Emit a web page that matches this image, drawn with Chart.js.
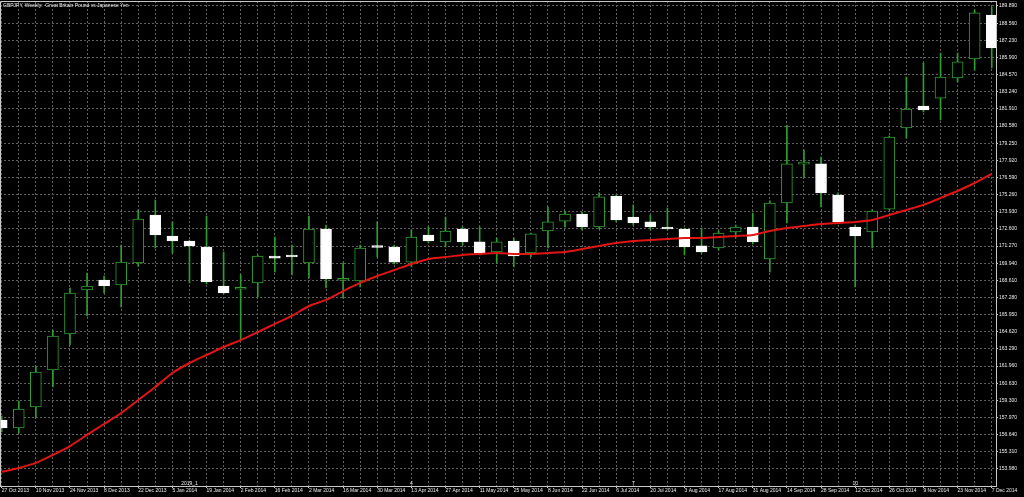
<!DOCTYPE html>
<html>
<head>
<meta charset="utf-8">
<script src="https://cdn.jsdelivr.net/npm/chart.js@4.4.1/dist/chart.umd.min.js"></script>
<style>
html, body { margin: 0; padding: 0; background: #000; }
#wrap { width: 1024px; height: 497px; }
</style>
</head>
<body>
<div id="wrap"><canvas id="gbpjpy" width="1024" height="497"></canvas></div>
<script>
var title = 'GBPJPY, Weekly:  Great Britain Pound vs Japanese Yen';

// every second week gets a date label
var dateLabels = ['27 Oct 2013','10 Nov 2013','24 Nov 2013','8 Dec 2013','22 Dec 2013','5 Jan 2014','19 Jan 2014',
    '2 Feb 2014','16 Feb 2014','2 Mar 2014','16 Mar 2014','30 Mar 2014','13 Apr 2014','27 Apr 2014','11 May 2014',
    '25 May 2014','8 Jun 2014','22 Jun 2014','6 Jul 2014','20 Jul 2014','3 Aug 2014','17 Aug 2014','31 Aug 2014',
    '14 Sep 2014','28 Sep 2014','12 Oct 2014','26 Oct 2014','9 Nov 2014','23 Nov 2014','7 Dec 2014'];

var opens = [157.78,157.16,158.79,161.66,164.45,167.86,168.64,168.25,169.96,173.68,
    172.05,171.66,171.20,168.17,167.92,168.41,170.50,170.58,169.96,172.59,
    168.62,168.56,171.28,171.20,170.03,172.13,171.59,172.59,171.59,170.81,
    171.66,170.73,172.44,173.21,173.76,172.75,175.15,173.52,173.14,172.75,
    172.59,171.28,171.12,172.36,172.75,170.27,174.61,177.62,177.64,175.23,
    172.75,172.36,174.14,180.43,182.13,182.75,184.31,185.78,189.19];
var highs = [158.09,159.25,161.89,164.76,168.02,169.18,168.95,171.35,174.07,174.84,
    173.14,171.74,173.60,170.81,169.03,170.58,171.97,171.35,173.60,172.90,
    169.96,171.35,173.14,171.35,172.52,172.75,173.52,172.75,172.75,171.90,
    171.90,172.28,174.30,173.99,173.91,175.39,175.23,174.46,173.68,174.22,
    172.67,172.67,172.44,172.90,173.83,174.77,180.66,178.72,178.18,175.39,
    172.90,174.07,179.81,184.38,185.47,186.24,186.24,189.58,189.81];
var lows = [156.85,156.77,158.01,160.34,163.60,165.85,167.63,166.54,169.72,171.12,
    170.73,168.41,168.33,167.55,163.98,167.32,169.26,169.03,168.79,168.02,
    167.24,168.10,170.42,169.88,169.65,171.51,171.20,171.35,170.58,169.96,
    169.65,170.42,171.12,172.75,172.52,172.59,173.14,172.90,172.52,172.52,
    170.58,170.73,170.97,171.90,171.43,169.26,173.06,176.63,174.30,172.98,
    168.10,171.12,174.07,179.65,181.67,181.05,184.00,184.93,185.08];
var closes = [157.16,158.63,161.50,164.29,167.63,168.17,168.17,170.03,173.37,172.13,
    171.66,171.28,168.48,167.63,167.93,170.50,170.34,170.42,172.59,168.72,
    168.63,171.12,171.16,170.03,171.97,171.66,172.44,171.59,170.73,171.59,
    170.50,172.21,173.14,173.76,172.75,175.08,173.29,173.06,172.75,172.59,
    171.20,170.81,172.28,172.75,171.59,174.61,177.64,177.63,175.39,173.14,
    172.05,173.99,179.73,181.90,181.82,184.38,185.55,189.35,186.63];
var maValues = [153.75,154.06,154.45,155.07,155.76,156.62,157.47,158.32,159.33,160.34,
    161.42,162.20,162.82,163.44,163.98,164.60,165.23,165.85,166.62,167.09,
    167.78,168.41,168.95,169.41,169.88,170.27,170.42,170.58,170.66,170.73,
    170.66,170.66,170.73,170.81,171.04,171.28,171.51,171.66,171.74,171.82,
    171.90,171.90,171.97,172.05,172.13,172.44,172.67,172.83,172.98,173.06,
    173.14,173.29,173.68,174.07,174.46,175.00,175.54,176.16,176.86];

var priceTicks = [153.98,155.31,156.64,157.97,159.30,160.63,161.96,163.29,164.62,165.95,
    167.28,168.61,169.94,171.27,172.60,173.93,175.26,176.59,177.92,179.25,
    180.58,181.91,183.24,184.57,185.90,187.23,188.56,189.89];

var markLabels = ['2019_1', '4', '7', '10'];
var markIndex = [11, 24, 37, 50];

var gridGray = '#606060';
var axisGray = '#c8c8c8';
var textGray = '#ececec';
var green = '#2f9e2f';

var bodies = [], wicks = [], ma = [], bodyFill = [], bodyLine = [];
for (var i = 0; i < opens.length; i++) {
    bodies.push({x: i, y: [opens[i], closes[i]]});
    wicks.push({x: i, y: [lows[i], highs[i]]});
    ma.push({x: i, y: maValues[i]});
    var up = closes[i] >= opens[i];
    bodyFill.push(up ? '#000000' : '#ffffff');
    bodyLine.push(up ? green : '#ffffff');
}

var framePlugin = {
    id: 'frame',
    beforeDraw: function(chart) {
        var ctx = chart.ctx;
        ctx.save();
        ctx.fillStyle = '#000';
        ctx.fillRect(0, 0, chart.width, chart.height);
        ctx.restore();
    },
    afterDraw: function(chart) {
        var ctx = chart.ctx, area = chart.chartArea, sx = chart.scales.x;
        ctx.save();
        ctx.strokeStyle = axisGray;
        ctx.lineWidth = 1;
        ctx.beginPath();
        ctx.moveTo(area.left + 0.5, area.bottom);
        ctx.lineTo(area.left + 0.5, area.top + 0.5);
        ctx.lineTo(area.right, area.top + 0.5);
        ctx.stroke();
        ctx.font = '5px "Liberation Sans"';
        ctx.fillStyle = textGray;
        ctx.textBaseline = 'alphabetic';
        ctx.fillText(title, 3, 7);
        ctx.textAlign = 'center';
        for (var k = 0; k < markLabels.length; k++) {
            ctx.fillText(markLabels[k], sx.getPixelForValue(markIndex[k]), area.bottom - 1);
        }
        ctx.restore();
    }
};

Chart.defaults.font.family = '"Liberation Sans", Arial, sans-serif';
Chart.defaults.font.size = 5;

new Chart(document.getElementById('gbpjpy'), {
    data: {
        datasets: [{
            type: 'line',
            data: ma,
            borderColor: 'rgb(226, 20, 20)',
            borderWidth: 2,
            pointRadius: 0,
            tension: 0.2,
            order: 0
        }, {
            type: 'bar',
            data: bodies,
            backgroundColor: bodyFill,
            borderColor: bodyLine,
            borderWidth: 1,
            borderSkipped: false,
            barThickness: 11,
            minBarLength: 2,
            grouped: false,
            order: 1
        }, {
            type: 'bar',
            data: wicks,
            backgroundColor: green,
            borderWidth: 0,
            barThickness: 1,
            grouped: false,
            order: 2
        }]
    },
    options: {
        responsive: false,
        animation: false,
        devicePixelRatio: 1,
        layout: { padding: { top: 1, left: 0, right: 0, bottom: 0 } },
        plugins: {
            legend: false,
            tooltip: { enabled: false }
        },
        scales: {
            x: {
                type: 'linear',
                position: 'bottom',
                offset: false,
                min: -0.1,
                max: 58.25,
                afterBuildTicks: function(axis) {
                    axis.ticks = opens.map(function(v, i) { return {value: i}; });
                },
                afterFit: function(axis) {
                    axis.height = 11;
                    axis.paddingLeft = 0;
                    axis.paddingRight = 0;
                },
                grid: {
                    offset: false,
                    color: gridGray,
                    tickLength: 2,
                    tickColor: function(c) {
                        return (c.tick && c.tick.value % 2 === 0) ? axisGray : 'rgba(0,0,0,0)';
                    }
                },
                border: { color: axisGray, dash: [2, 2] },
                ticks: {
                    autoSkip: false,
                    maxRotation: 0,
                    align: 'start',
                    padding: 0,
                    color: textGray,
                    callback: function(v, idx) { return idx % 2 === 0 ? dateLabels[idx / 2] : ''; }
                }
            },
            y: {
                type: 'linear',
                position: 'right',
                min: 152.66,
                max: 190.277,
                afterBuildTicks: function(axis) {
                    axis.ticks = priceTicks.map(function(v) { return {value: v}; });
                },
                afterFit: function(axis) {
                    axis.width = 28;
                    axis.paddingTop = 0;
                    axis.paddingBottom = 0;
                },
                grid: { color: gridGray, tickLength: 2, tickColor: axisGray },
                border: { color: axisGray, dash: [2, 2] },
                ticks: {
                    padding: 1,
                    color: textGray,
                    callback: function(v) { return v.toFixed(3); }
                }
            }
        }
    },
    plugins: [framePlugin]
});
</script>
</body>
</html>
